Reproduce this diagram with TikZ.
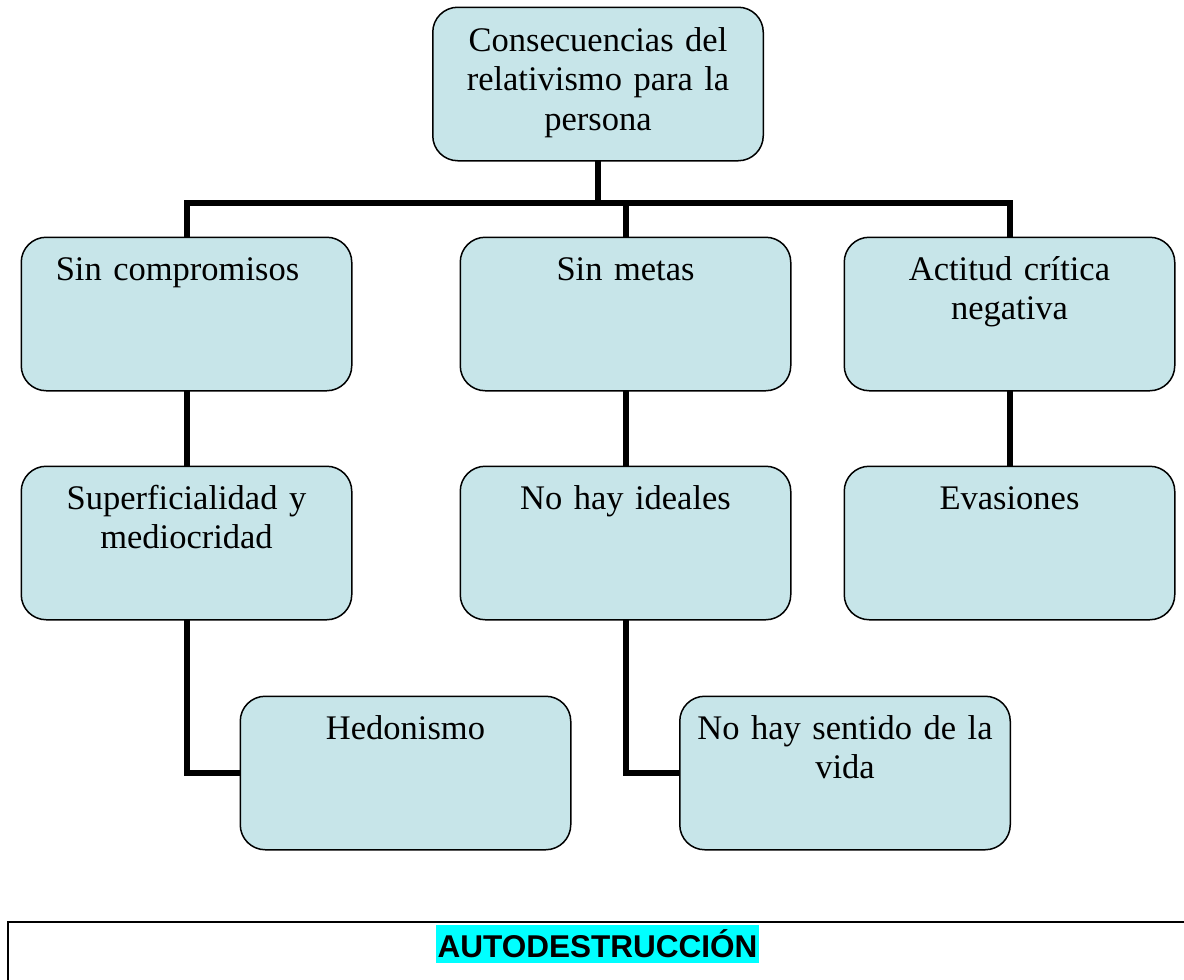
\documentclass[tikz,border=0pt]{standalone}
\usepackage{fontspec}
\setmainfont{Liberation Serif}
\newfontfamily\arialbold[BoldFont={* Bold}]{Liberation Sans}
\definecolor{boxfill}{RGB}{199,229,233}
\definecolor{hl}{RGB}{0,255,255}
\tikzset{
  x=1pt, y=-1pt,
  box/.style={draw=black, line width=1.5pt, fill=boxfill, rounded corners=25pt,
    minimum width=329pt, minimum height=152pt, inner sep=0pt},
  txt/.style={anchor=base, text width=320pt, align=center, inner sep=0pt,
    font=\fontsize{34.5}{39.7}\selectfont},
  conn/.style={draw=black, line width=6pt, line cap=rect, line join=miter},
}
\begin{document}
\begin{tikzpicture}
\useasboundingbox (0,0) rectangle (1184,980);
\clip (0,0) rectangle (1184,980);
% boxes
\node[box] (top) at (598,84) {};
\node[box] (a1) at (186.5,314) {};
\node[box] (b1) at (625.5,314) {};
\node[box] (c1) at (1009.5,314) {};
\node[box] (a2) at (186.5,543) {};
\node[box] (b2) at (625.5,543) {};
\node[box] (c2) at (1009.5,543) {};
\node[box] (a3) at (405.5,773) {};
\node[box] (b3) at (845,773) {};
% connectors
\coordinate (bus) at (598,203);
\draw[conn] (top.south) -- (bus);
\draw[conn] (bus -| a1.north) -- (bus -| c1.north);
\draw[conn] (bus -| a1.north) -- (a1.north);
\draw[conn] (bus -| b1.north) -- (b1.north);
\draw[conn] (bus -| c1.north) -- (c1.north);
\draw[conn] (a1.south) -- (a2.north);
\draw[conn] (b1.south) -- (b2.north);
\draw[conn] (c1.south) -- (c2.north);
\draw[conn] (a2.south) |- (a3.west);
\draw[conn] (b2.south) |- (b3.west);
% redraw boxes over connector ends
\foreach \n in {top,a1,b1,c1,a2,b2,c2,a3,b3}{
  \draw[line width=1.5pt, rounded corners=25pt, fill=boxfill]
    (\n.south west) rectangle (\n.north east);
}
% texts
\node[txt] (ttop) at ([yshift=-44pt]top.north) {Consecuencias del\\relativismo para la\\persona};
\node[txt] (ta1) at ([yshift=-43pt, xshift=-9pt]a1.north) {Sin compromisos};
\node[txt] (tb1) at ([yshift=-43pt]b1.north) {Sin metas};
\node[txt] (tc1) at ([yshift=-43pt]c1.north) {Actitud crítica\\negativa};
\node[txt] (ta2) at ([yshift=-43pt]a2.north) {Superficialidad y\\mediocridad};
\node[txt] (tb2) at ([yshift=-43pt]b2.north) {No hay ideales};
\node[txt] (tc2) at ([yshift=-43pt]c2.north) {Evasiones};
\node[txt] (ta3) at ([yshift=-43pt]a3.north) {Hedonismo};
\node[txt] (tb3) at ([yshift=-43pt]b3.north) {No hay sentido de la\\vida};
% bottom box
\draw[line width=2.5pt] (8,1000) -- (8,922) -- (1200,922);
\node[fill=hl, inner xsep=2pt, inner ysep=0pt, minimum height=38pt, font=\arialbold\bfseries\fontsize{31.5}{36}\selectfont] (auto) at (597.5,944) {AUTODESTRUCCIÓN};
\end{tikzpicture}
\end{document}
